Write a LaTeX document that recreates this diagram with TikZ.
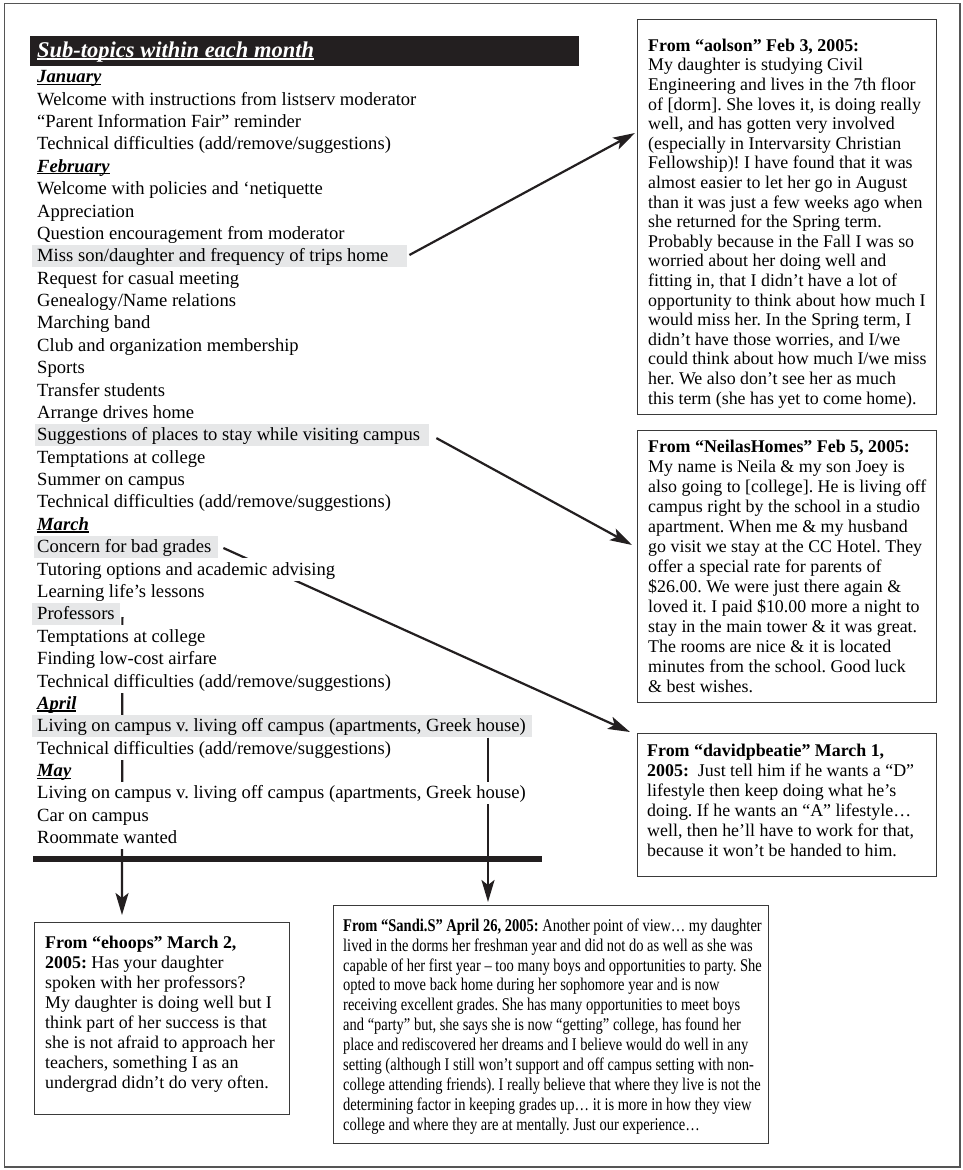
\documentclass[tikz,border=0pt]{standalone}
\usepackage{fontspec}
\setmainfont{Liberation Serif}
\newfontfamily\sandifont[FakeStretch=0.81]{Liberation Serif}
\usetikzlibrary{arrows.meta,calc}
\definecolor{hlgray}{HTML}{E6E7E8}
\definecolor{boxline}{HTML}{3A3A3A}
\definecolor{barblack}{HTML}{231F20}
\definecolor{framegray}{HTML}{555555}
\newcommand\myul[1]{\setbox0=\hbox{#1}\rlap{\rule[-2.2pt]{\wd0}{1.1pt}}\box0}
\newcommand\listfont{\fontsize{18.6pt}{22.4pt}\selectfont}
\newcommand\mon[1]{\textbf{\textit{\myul{#1}}}}
\newcommand\st{\rule{0pt}{14pt}}
\pgfdeclarelayer{back}
\pgfdeclarelayer{lines}
\pgfsetlayers{back,lines,main}
\frenchspacing
\begin{document}
\begin{tikzpicture}[x=1pt,y=-1pt,
  row/.style={anchor=west, inner xsep=0pt, inner ysep=0pt, text height=16.9pt, text depth=5.5pt, font=\listfont, fill=white, draw=none},
  hlrow/.style={row, fill=none},
  hl/.style={anchor=west, fill=hlgray, inner sep=0pt, minimum height=22.6pt},
  msgbox/.style={draw=boxline, line width=1.1pt, anchor=north west, inner sep=0pt},
  msgtext/.style={anchor=north west, inner sep=0pt, align=left},
  conn/.style={line width=2.2pt, draw=barblack, -{Stealth[length=22pt,width=13pt,inset=5pt]}},
]
\useasboundingbox (0,0) rectangle (963,1170);
\begin{pgfonlayer}{back}
\fill[white] (0,0) rectangle (963,1170);
\draw[line width=1.2pt, framegray] (4.5,3.5) rectangle (960,1167);
\end{pgfonlayer}

% header bar
\node[fill=barblack, minimum width=549pt, minimum height=30pt, anchor=north west, inner sep=0pt] (hdr) at (30,36) {};
\node[anchor=base west, inner sep=0pt, text=white, font=\fontsize{22.5pt}{27pt}\selectfont\bfseries\itshape] (title) at (37,57.3) {\myul{Sub-topics within each month}};

% highlights
\node[hl, minimum width=375pt] (hmiss) at (32,256.0) {};
\node[hl, minimum width=394pt] (hsug) at (35,435.1) {};
\node[hl, minimum width=184pt] (hcon) at (34,547.0) {};
\node[hl, minimum width=88pt] (hprof) at (32,614.1) {};
\node[hl, minimum width=500pt] (hliv) at (32,726.0) {};

% message boxes
\node[msgbox, minimum width=299pt, minimum height=395pt] (b1) at (637,19) {};
\node[msgbox, minimum width=299pt, minimum height=272pt] (b2) at (637,430) {};
\node[msgbox, minimum width=299pt, minimum height=143pt] (b3) at (637,733) {};
\node[msgbox, minimum width=255pt, minimum height=192pt] (b4) at (34,922) {};
\node[msgbox, minimum width=435pt, minimum height=238pt] (b5) at (333,905) {};

% connectors (on a layer beneath the text rows)
\begin{pgfonlayer}{lines}
\draw[conn] ($(hmiss.east)+(2,-1)$) -- ($(b1.north west)+(-2,114)$);
\draw[conn] ($(hsug.east)+(7,3)$) -- ($(b2.north west)+(-5,115)$);
\draw[conn] ($(hcon.east)+(5,1)$) -- ($(b3.north west)+(-7,-1)$);
\draw[conn] ($(hprof.east)+(2,3)$) -- ($(b4.north west)+(88,-7)$);
\draw[conn] ($(hliv.south west)+(456,0)$) -- ($(b5.north west)+(155,-3)$);
\coordinate (rulel) at (33,859);
\coordinate (ruler) at (542,859);
\draw[line width=6pt, barblack] (rulel) -- (ruler);
\end{pgfonlayer}

% list rows
\node[row] (r0) at (37,77.0) {\mon{January}};
\node[row] (r1) at (37,99.4) {Welcome with instructions from listserv moderator};
\node[row] (r2) at (37,121.8) {“Parent Information Fair” reminder};
\node[row] (r3) at (37,144.1) {Technical difficulties (add/remove/suggestions)};
\node[row] (r4) at (37,166.5) {\mon{February}};
\node[row] (r5) at (37,188.9) {Welcome with policies and ‘netiquette};
\node[row] (r6) at (37,211.3) {Appreciation};
\node[row] (r7) at (37,233.7) {Question encouragement from moderator};
\node[hlrow] (r8) at (37,256.0) {Miss son/daughter and frequency of trips home};
\node[row] (r9) at (37,278.4) {Request for casual meeting};
\node[row] (r10) at (37,300.8) {Genealogy/Name relations};
\node[row] (r11) at (37,323.2) {Marching band};
\node[row] (r12) at (37,345.6) {Club and organization membership};
\node[row] (r13) at (37,367.9) {Sports};
\node[row] (r14) at (37,390.3) {Transfer students};
\node[row] (r15) at (37,412.7) {Arrange drives home};
\node[hlrow] (r16) at (37,435.1) {Suggestions of places to stay while visiting campus};
\node[row] (r17) at (37,457.5) {Temptations at college};
\node[row] (r18) at (37,479.8) {Summer on campus};
\node[row] (r19) at (37,502.2) {Technical difficulties (add/remove/suggestions)};
\node[row] (r20) at (37,524.6) {\mon{March}};
\node[hlrow] (r21) at (37,547.0) {Concern for bad grades};
\node[row] (r22) at (37,569.4) {Tutoring options and academic advising};
\node[row] (r23) at (37,591.7) {Learning life’s lessons};
\node[hlrow] (r24) at (37,614.1) {Professors};
\node[row] (r25) at (37,636.5) {Temptations at college};
\node[row] (r26) at (37,658.9) {Finding low-cost airfare};
\node[row] (r27) at (37,681.3) {Technical difficulties (add/remove/suggestions)};
\node[row] (r28) at (37,703.6) {\mon{April}};
\node[hlrow] (r29) at (37,726.0) {Living on campus v. living off campus (apartments, Greek house)};
\node[row] (r30) at (37,748.4) {Technical difficulties (add/remove/suggestions)};
\node[row] (r31) at (37,770.8) {\mon{May}};
\node[row] (r32) at (37,793.2) {Living on campus v. living off campus (apartments, Greek house)};
\node[row] (r33) at (37,815.5) {Car on campus};
\node[row] (r34) at (37,837.9) {Roommate wanted};

% message texts
\node[msgtext, font=\fontsize{17.9pt}{19.6pt}\selectfont] (t1) at (648,37) {\st\textbf{From “aolson” Feb 3, 2005:}\\
My daughter is studying Civil\\
Engineering and lives in the 7th floor\\
of [dorm]. She loves it, is doing really\\
well, and has gotten very involved\\
(especially in Intervarsity Christian\\
Fellowship)! I have found that it was\\
almost easier to let her go in August\\
than it was just a few weeks ago when\\
she returned for the Spring term.\\
Probably because in the Fall I was so\\
worried about her doing well and\\
fitting in, that I didn’t have a lot of\\
opportunity to think about how much I\\
would miss her. In the Spring term, I\\
didn’t have those worries, and I/we\\
could think about how much I/we miss\\
her. We also don’t see her as much\\
this term (she has yet to come home).};

\node[msgtext, font=\fontsize{17.9pt}{20pt}\selectfont] (t2) at (648,438.5) {\st\textbf{From “NeilasHomes” Feb 5, 2005:}\\
My name is Neila \& my son Joey is\\
also going to [college]. He is living off\\
campus right by the school in a studio\\
apartment. When me \& my husband\\
go visit we stay at the CC Hotel. They\\
offer a special rate for parents of\\
\$26.00. We were just there again \&\\
loved it. I paid \$10.00 more a night to\\
stay in the main tower \& it was great.\\
The rooms are nice \& it is located\\
minutes from the school. Good luck\\
\& best wishes.};

\node[msgtext, font=\fontsize{17.9pt}{20pt}\selectfont] (t3) at (647,742) {\st\textbf{From “davidpbeatie” March 1,}\\
\textbf{2005:}\ \ Just tell him if he wants a “D”\\
lifestyle then keep doing what he’s\\
doing. If he wants an “A” lifestyle…\\
well, then he’ll have to work for that,\\
because it won’t be handed to him.};

\node[msgtext, font=\fontsize{17.9pt}{20pt}\selectfont] (t4) at (45,934.5) {\st\textbf{From “ehoops” March 2,}\\
\textbf{2005:} Has your daughter\\
spoken with her professors?\\
My daughter is doing well but I\\
think part of her success is that\\
she is not afraid to approach her\\
teachers, something I as an\\
undergrad didn’t do very often.};

\node[msgtext, font=\sandifont\fontsize{17.9pt}{19.9pt}\selectfont] (t5) at (343,917) {\st\textbf{From “Sandi.S” April 26, 2005:} Another point of view… my daughter\\
lived in the dorms her freshman year and did not do as well as she was\\
capable of her first year – too many boys and opportunities to party. She\\
opted to move back home during her sophomore year and is now\\
receiving excellent grades. She has many opportunities to meet boys\\
and “party” but, she says she is now “getting” college, has found her\\
place and rediscovered her dreams and I believe would do well in any\\
setting (although I still won’t support and off campus setting with non-\\
college attending friends). I really believe that where they live is not the\\
determining factor in keeping grades up… it is more in how they view\\
college and where they are at mentally. Just our experience…};
\end{tikzpicture}
\end{document}
